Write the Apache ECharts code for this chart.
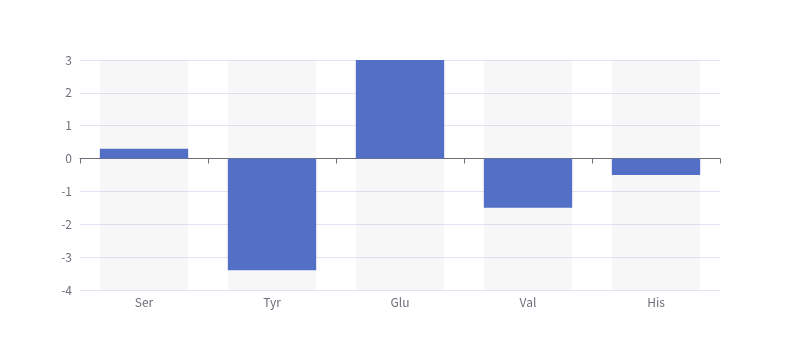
<!DOCTYPE html>
<html>
<head>
<meta charset="utf-8">
<script src="https://cdn.jsdelivr.net/npm/echarts@6/dist/echarts.min.js"></script>
<style>html,body{margin:0;padding:0;background:#fff}#c{width:800px;height:360px}</style>
</head>
<body>
<div id="c"></div>
<script>
const categories = ['Ser', 'Tyr', 'Glu', 'Val', 'His'];
const values = [0.3, -3.4, 3, -1.5, -0.5];
const yMin = -4, yMax = 3, yStep = 1;

const chart = echarts.init(document.getElementById('c'), null, {renderer: 'canvas'});
chart.setOption({
  animation: false,
  textStyle: {fontFamily: '"Noto Sans CJK SC", sans-serif'},
  grid: {left: 80, right: 80, top: 60, bottom: 70},
  xAxis: [
    {
      type: 'category', data: categories, position: 'bottom',
      axisLine: {show: false, onZero: false}, axisTick: {show: false},
      axisLabel: {color: '#6E7079', fontSize: 12, margin: 6, fontFamily: '"Noto Sans CJK SC", sans-serif'}
    },
    {
      type: 'category', data: categories, position: 'bottom',
      axisLine: {show: true, onZero: true, lineStyle: {color: '#6E7079'}},
      axisTick: {show: true}, axisLabel: {show: false}
    }
  ],
  yAxis: {
    type: 'value', min: yMin, max: yMax, interval: yStep,
    axisLabel: {color: '#6E7079', fontFamily: '"Noto Sans CJK SC", sans-serif'},
    splitLine: {lineStyle: {color: '#E0E6F1'}}
  },
  series: [{
    type: 'bar', data: values, xAxisIndex: 1, barWidth: '69%',
    itemStyle: {color: '#5470c6'},
    showBackground: true,
    backgroundStyle: {color: 'rgba(180,180,180,0.1)'}
  }]
});
</script>
</body>
</html>
